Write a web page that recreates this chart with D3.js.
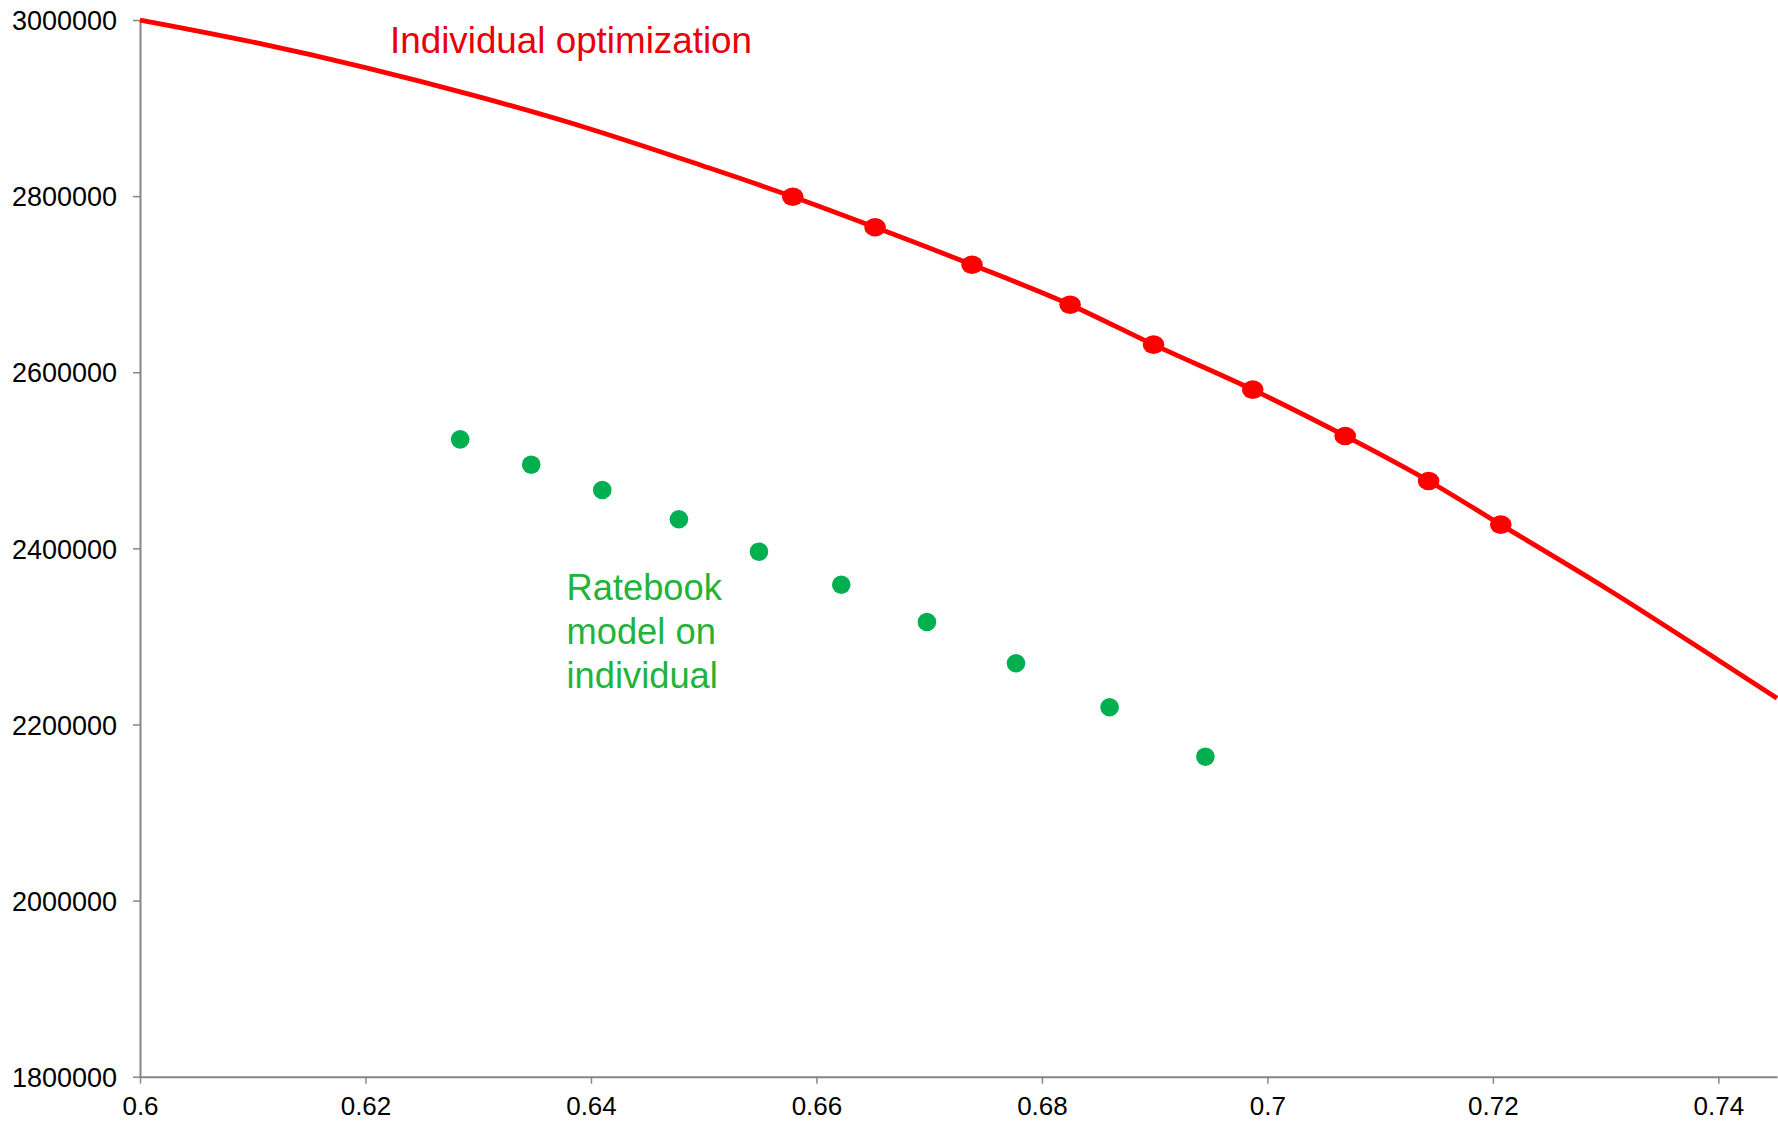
<!DOCTYPE html>
<html>
<head>
<meta charset="utf-8">
<script src="https://cdn.jsdelivr.net/npm/d3@7"></script>
<style>
  html, body { margin: 0; padding: 0; background: #ffffff; }
  svg { display: block; }
  text { font-family: "Liberation Sans", Arial, sans-serif; }
</style>
</head>
<body>
<svg id="chart" width="1778" height="1124"></svg>
<script>
// ---- data ----
const xTicks = [0.6, 0.62, 0.64, 0.66, 0.68, 0.7, 0.72, 0.74];
const xTickLabels = ["0.6", "0.62", "0.64", "0.66", "0.68", "0.7", "0.72", "0.74"];
const yTicks = [1800000, 2000000, 2200000, 2400000, 2600000, 2800000, 3000000];
const yTickLabels = ["1800000", "2000000", "2200000", "2400000", "2600000", "2800000", "3000000"];

// Individual optimization frontier (line)
const curveX = [0.6, 0.61, 0.62, 0.63, 0.64, 0.65, 0.6579, 0.6652, 0.6738, 0.6825, 0.6899, 0.6987, 0.7069, 0.7143, 0.7207, 0.73, 0.74, 0.7452];
const curveY = [3000000, 2975000, 2946000, 2913000, 2876000, 2834000, 2799300, 2764600, 2722100, 2676700, 2631300, 2580200, 2527600, 2476500, 2426900, 2355000, 2273000, 2229700];

// Individual optimization markers
const optX = [0.6579, 0.6652, 0.6738, 0.6825, 0.6899, 0.6987, 0.7069, 0.7143, 0.7207];
const optY = [2799300, 2764600, 2722100, 2676700, 2631300, 2580200, 2527600, 2476500, 2426900];

// Ratebook model on individual
const rateX = [0.6284, 0.6347, 0.6410, 0.6478, 0.6549, 0.6622, 0.6698, 0.6777, 0.6860, 0.6945];
const rateY = [2523800, 2495000, 2466300, 2433000, 2396200, 2358700, 2316400, 2269500, 2219500, 2163400];

const labelOpt = "Individual optimization";
const labelRate = ["Ratebook", "model on", "individual"];

// ---- drawing ----
const svg = d3.select("#chart");
const x = d3.scaleLinear().domain([0.6, 0.7452]).range([140, 1777]);
const y = d3.scaleLinear().domain([1800000, 3000000]).range([1076.7, 20]);

const axisColor = "#868686";

// X axis
const gx = svg.append("g").attr("transform", `translate(0,${y(1800000)})`)
  .call(d3.axisBottom(x).tickValues(xTicks).tickSize(7).tickSizeOuter(0)
    .tickFormat((d, i) => xTickLabels[i]));
gx.select(".domain").attr("stroke", axisColor).attr("stroke-width", 2);
gx.selectAll(".tick line").attr("stroke", axisColor).attr("stroke-width", 1.5).attr("y1", 0);
gx.selectAll(".tick text").attr("fill", "#000").attr("font-size", 26)
  .attr("font-family", "'Liberation Sans', Arial, sans-serif")
  .attr("y", 38.5).attr("dy", 0);

// Y axis
const gy = svg.append("g").attr("transform", `translate(${x(0.6)},0)`)
  .call(d3.axisLeft(y).tickValues(yTicks).tickSize(7).tickSizeOuter(0)
    .tickFormat((d, i) => yTickLabels[i]));
gy.select(".domain").attr("stroke", axisColor).attr("stroke-width", 2);
gy.selectAll(".tick line").attr("stroke", axisColor).attr("stroke-width", 1.5);
gy.selectAll(".tick text").attr("fill", "#000").attr("font-size", 27)
  .attr("font-family", "'Liberation Sans', Arial, sans-serif")
  .attr("x", -23).attr("dy", "0.36em");

// Red curve
const curvePts = curveX.map((v, i) => [v, curveY[i]]);
svg.append("path")
  .datum(curvePts)
  .attr("fill", "none")
  .attr("stroke", "#ff0000")
  .attr("stroke-width", 4.8)
  .attr("stroke-linejoin", "round")
  .attr("d", d3.line().x(d => x(d[0])).y(d => y(d[1])).curve(d3.curveMonotoneX));

// Red markers
svg.append("g").selectAll("ellipse")
  .data(optX.map((v, i) => [v, optY[i]]))
  .join("ellipse")
  .attr("cx", d => x(d[0]))
  .attr("cy", d => y(d[1]))
  .attr("rx", 10.8)
  .attr("ry", 9.3)
  .attr("fill", "#ff0000");

// Green markers
svg.append("g").selectAll("circle")
  .data(rateX.map((v, i) => [v, rateY[i]]))
  .join("circle")
  .attr("cx", d => x(d[0]))
  .attr("cy", d => y(d[1]))
  .attr("r", 9.3)
  .attr("fill", "#00b050");

// Labels
svg.append("text")
  .attr("x", 390).attr("y", 53.3)
  .attr("font-size", 36.8)
  .attr("fill", "#e8000b")
  .text(labelOpt);

const rt = svg.append("text")
  .attr("x", 566.5).attr("y", 600)
  .attr("font-size", 36.3)
  .attr("fill", "#22b33a");
labelRate.forEach((s, i) => {
  rt.append("tspan").attr("x", 566.5).attr("dy", i === 0 ? 0 : 44).text(s);
});
</script>
</body>
</html>
